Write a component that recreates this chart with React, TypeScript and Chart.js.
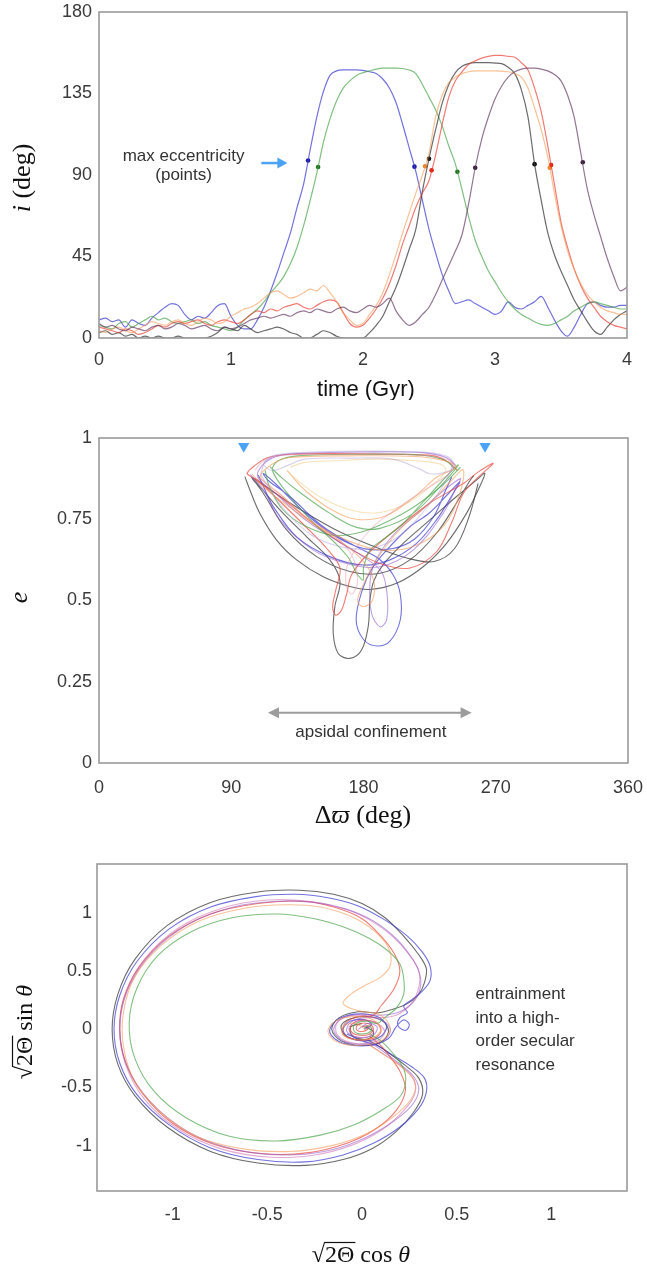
import React, { useEffect, useRef } from 'react';
import { Chart, registerables } from 'chart.js';

Chart.register(...registerables);

const SANS = "'Liberation Sans', Arial, Helvetica, sans-serif";
const SERIF = "'Liberation Serif', 'DejaVu Serif', serif";
const TICK_COLOR = '#3a3a3a';
const FRAME_COLOR = '#9a9a9a';
const TEXT_COLOR = '#333333';

// ---------------- Panel 1: inclination vs time ----------------
const timeTicks = [0, 1, 2, 3, 4];
const incTicks = [0, 45, 90, 135, 180];
const timeGyr = [
  0, 0.05, 0.1, 0.15, 0.2, 0.25, 0.3, 0.35, 0.4, 0.45, 0.5, 0.55, 0.6, 0.65, 0.7, 0.75, 0.8, 0.85, 0.9, 0.95, 1.0,
  1.05, 1.1, 1.15, 1.2, 1.25, 1.3, 1.35, 1.4, 1.45, 1.5, 1.55, 1.6, 1.65, 1.7, 1.75, 1.8, 1.85, 1.9, 1.95, 2.0,
  2.05, 2.1, 2.15, 2.2, 2.25, 2.3, 2.35, 2.4, 2.45, 2.5, 2.55, 2.6, 2.65, 2.7, 2.75, 2.8, 2.85, 2.9, 2.95, 3.0,
  3.05, 3.1, 3.15, 3.2, 3.25, 3.3, 3.35, 3.4, 3.45, 3.5, 3.55, 3.6, 3.65, 3.7, 3.75, 3.8, 3.85, 3.9, 3.95, 4.0,
];
const incBlue = [
  10, 11, 9, 10, 6, 10, 8, 7, 11, 14, 17, 19, 18, 13, 10, 12, 11, 14, 18, 19, 12,
  7, 5, 5, 10, 17, 26, 36, 47, 58, 72, 85, 104, 122, 136, 145, 147.5, 148, 148, 148, 147.8,
  147, 146, 143, 138, 130, 118, 105, 92, 76, 60, 47, 35, 26, 19, 20, 21, 19, 17, 15, 13,
  15, 20, 17, 16, 18, 20, 23, 17, 10, 4, 1, 6, 13, 19, 20, 18, 17, 17, 18, 18,
];
const incGreen = [
  7, 6, 5, 8, 9, 6, 8, 10, 12, 10, 11, 9, 8, 9, 10, 8, 9, 7, 6, 5, 4,
  6, 10, 13, 16, 20, 25, 29, 34, 41, 50, 62, 76, 91, 108, 121, 131, 138, 142, 145, 146.5,
  147.5, 148.5, 149, 149, 149, 148.8, 148, 146, 140, 133, 126, 117, 106, 96, 82, 67, 54, 45, 37, 31,
  25, 20, 16, 13, 11, 9, 7.5, 7, 8, 10, 12, 15, 17, 19, 20, 19, 18, 17, 16, 16,
];
const incBlack = [
  3, 4, 2, 3, 1, 2, 0, 1, 0, 1, 0, 0, 1, 0, 0, 0, 0, 1, 3, 6, 5,
  4, 7, 5, 3, 4, 5, 6, 5, 3, 2, 0, 0, 2, 4, 3, 1, 0, 0, 0, 0,
  3, 7, 12, 20, 28, 38, 49, 60, 81, 99, 115, 129.7, 140, 146.5, 150, 151.5, 152, 152, 152, 151.8,
  151.5, 149.5, 146, 137, 122, 96, 76, 58, 46, 37, 29, 21, 15, 9, 4, 2, 6, 10, 13, 15,
];
const incRed = [
  6, 5, 4, 3, 5, 4, 2, 3, 5, 7, 6, 8, 9, 8, 9, 10, 8, 7, 9, 10, 9,
  8, 10, 13, 15, 14, 16, 15, 17, 18, 19, 17, 16, 18, 20, 21, 20, 14, 8, 6, 7,
  11, 16, 22, 30, 40, 52, 62, 72, 80, 87, 101, 118, 133, 142, 147, 151, 153, 154.5, 155.5, 156,
  156, 155.5, 155, 152, 148, 138, 125, 106, 85, 64, 50, 38, 29, 22, 17, 12, 9, 7, 6, 5,
];
const incOrange = [
  4, 3, 5, 6, 4, 3, 5, 7, 9, 8, 7, 9, 10, 8, 7, 9, 11, 10, 8, 9, 12,
  14, 16, 17, 19, 22, 25, 26, 24, 22, 23, 25, 27, 26, 29, 25, 20, 14, 10, 7, 8,
  13, 18, 25, 35, 46, 58, 69, 80, 90, 102, 122, 134, 141, 144, 146, 147, 147.5, 147.5, 147.5, 147.5,
  147.3, 147, 146, 144, 138, 127, 115, 100, 80, 62, 48, 38, 30, 24, 20, 17, 15, 14, 13, 13,
];
const incMauve = [
  8, 6, 7, 5, 4, 6, 5, 4, 6, 7, 5, 6, 8, 7, 5, 6, 7, 5, 4, 6, 5,
  6, 8, 10, 11, 12, 11, 12, 13, 12, 14, 15, 14, 16, 15, 14, 16, 17, 15, 14, 16,
  18, 17, 19, 22, 15, 10, 7, 9, 13, 17, 24, 32, 40, 48, 57, 74, 94, 110, 122, 132,
  139, 144, 147, 148.5, 149, 149, 148.5, 147.5, 145.5, 142, 134, 122, 102, 82, 68, 56, 44, 34, 26, 28,
];
// max-eccentricity points [time, inclination]
const maxEccBlue = [[1.584, 98], [2.39, 94.6]];
const maxEccGreen = [[1.66, 94.4], [2.715, 91.8]];
const maxEccBlack = [[2.5, 99], [3.3, 96]];
const maxEccRed = [[2.52, 92.6], [3.425, 95.5]];
const maxEccOrange = [[2.47, 94.8], [3.415, 94]];
const maxEccMauve = [[2.85, 94], [3.665, 97]];
// annotation anchors (data coords)
const noteMaxEcc = { t: 0.641, i1: 98.0, i2: 87.2 };
const noteArrow1 = { t0: 1.23, t1: 1.427, i: 96.6 };

// ---------------- Panel 2: e vs delta-varpi ----------------
const varpiTicks = [0, 90, 180, 270, 360];
const eccTicks = [0, 0.25, 0.5, 0.75, 1];
const trackGrayP2 = [
  [99.3, 0.881], [102.7, 0.84], [109.5, 0.768], [120.9, 0.686], [134.5, 0.625], [152.6, 0.573], [170.7, 0.543], [184.4, 0.534], [202.5, 0.553], [220.6, 0.604], [236.5, 0.676], [250.1, 0.768], [258, 0.84], [262.6, 0.891],
  [257, 0.871], [243.3, 0.82], [225.2, 0.748], [207, 0.676], [194, 0.614], [187, 0.56], [184.4, 0.502], [183.2, 0.42], [178.7, 0.348], [170.7, 0.322], [162.8, 0.337], [159.4, 0.399], [160.5, 0.481], [164, 0.56], [157.1, 0.625], [141.3, 0.696], [123.1, 0.779], [109.5, 0.85], [104, 0.878],
  [111.8, 0.83], [127.7, 0.717], [148.1, 0.635], [170.7, 0.589], [191.2, 0.584], [211.6, 0.625], [229.7, 0.707], [243.3, 0.8], [251.3, 0.861], [255, 0.885],
];
const trackGray2P2 = [
  [106, 0.875], [130, 0.8], [160, 0.72], [185, 0.67], [210, 0.63], [228, 0.62], [242, 0.66], [252, 0.76], [258, 0.86],
];
const trackRedP2 = [
  [100.4, 0.891], [110, 0.86], [123.1, 0.82], [145.8, 0.737], [168.5, 0.666], [191.2, 0.614], [211.6, 0.6], [229.7, 0.65], [240, 0.74], [248, 0.83], [257, 0.875], [268.3, 0.922],
  [258, 0.895], [247.9, 0.86], [225.2, 0.8], [202.5, 0.72], [184.4, 0.65], [172, 0.58], [168.5, 0.52], [165, 0.47], [161, 0.455], [159, 0.48], [161, 0.53], [164, 0.6], [155, 0.66], [140, 0.73], [122, 0.81], [108, 0.87], [101, 0.89],
  [106, 0.915], [115, 0.94], [130, 0.95], [160, 0.952], [200, 0.95], [228, 0.945], [238, 0.925], [244, 0.9],
];
const trackBlueP2 = [
  [108.4, 0.886], [113, 0.84], [118.6, 0.789], [134.5, 0.696], [157.1, 0.635], [179.8, 0.609], [198, 0.625], [216.1, 0.676], [229.7, 0.748], [241.1, 0.83], [245.6, 0.865],
  [238, 0.83], [225, 0.77], [211.6, 0.727], [195.7, 0.655], [186, 0.6], [179, 0.53], [175, 0.44], [180, 0.38], [189, 0.36], [198, 0.375], [205, 0.44], [205, 0.52], [200, 0.58], [190, 0.63], [175.3, 0.665], [152.6, 0.727], [129.9, 0.82], [115, 0.87], [111.8, 0.891],
  [120, 0.86], [140, 0.77], [160, 0.7], [180, 0.66], [200, 0.66], [215, 0.69], [228, 0.76], [236, 0.84], [240, 0.88],
];
const trackPurpleP2 = [
  [103, 0.887], [112, 0.84], [123.1, 0.748], [145.8, 0.655], [168.5, 0.614], [191.2, 0.604], [213.8, 0.655], [234.2, 0.768], [243.3, 0.85], [246, 0.875],
  [235, 0.84], [220, 0.78], [200, 0.7], [188, 0.62], [184.4, 0.553], [185.5, 0.46], [191.2, 0.419], [195.7, 0.44], [196, 0.522], [192, 0.59], [178, 0.64], [160, 0.69], [140, 0.75], [120, 0.83], [108, 0.88],
  [112, 0.92], [122, 0.945], [140, 0.953], [180, 0.957], [220, 0.955], [236, 0.94], [243, 0.915],
];
const trackGreenP2 = [
  [116.3, 0.912], [125, 0.875], [134.5, 0.84], [157.1, 0.768], [175.3, 0.725], [191.2, 0.722], [213.8, 0.768], [232, 0.85], [244.5, 0.917],
  [236, 0.88], [220, 0.8], [207, 0.737], [194, 0.69], [184.4, 0.655], [180, 0.6], [179.8, 0.563], [175.3, 0.584], [170, 0.63], [160, 0.68], [145.8, 0.74], [130, 0.82], [118, 0.9],
  [122, 0.93], [135, 0.945], [180, 0.95], [220, 0.947], [236, 0.93], [242, 0.905],
];
const trackGreen2P2 = [
  [246, 0.91], [235, 0.86], [215, 0.79], [195, 0.74], [178, 0.71], [160, 0.7], [140, 0.73], [125, 0.78], [116, 0.85], [113, 0.9],
];
const trackOrangeP2 = [
  [104, 0.89], [112, 0.85], [123.1, 0.809], [145.8, 0.737], [168.5, 0.686], [191.2, 0.655], [213.8, 0.666], [234.2, 0.727], [245.6, 0.83], [247.9, 0.902],
  [240, 0.87], [225, 0.8], [205, 0.72], [188, 0.62], [180, 0.55], [176, 0.5], [179.8, 0.481], [186, 0.5], [187, 0.56], [180, 0.62], [165, 0.68], [145, 0.74], [125, 0.82], [110, 0.88],
  [118, 0.92], [130, 0.94], [170, 0.945], [215, 0.943], [235, 0.93], [243, 0.91],
  [230, 0.88], [215, 0.82], [195, 0.76], [175, 0.75], [158, 0.78], [140, 0.84], [128, 0.9],
];
const trackYellowP2 = [
  [128, 0.9], [135, 0.87], [150, 0.82], [170, 0.78], [190, 0.77], [210, 0.8], [228, 0.86], [236, 0.9], [232, 0.92], [215, 0.93], [190, 0.935], [160, 0.93], [140, 0.925], [130, 0.91],
];
const trackLavenderP2 = [
  [110, 0.89], [113, 0.925], [122, 0.948], [150, 0.957], [190, 0.958], [225, 0.955], [238, 0.94], [242, 0.915], [236, 0.895], [225, 0.89], [218, 0.905], [200, 0.935], [170, 0.938], [140, 0.935], [128, 0.915], [118, 0.9], [112, 0.92], [118, 0.945], [135, 0.955], [180, 0.96], [228, 0.952], [240, 0.93],
  [235, 0.86], [222, 0.78], [205, 0.7], [185, 0.66], [165, 0.665], [145, 0.7], [128, 0.77], [115, 0.85], [110, 0.89],
];
const trackPinkP2 = [
  [106, 0.9], [112, 0.93], [124, 0.946], [160, 0.95], [205, 0.95], [232, 0.94], [241, 0.92], [238, 0.89], [225, 0.85], [205, 0.79], [185, 0.72], [170, 0.62], [168, 0.55], [172, 0.52], [176, 0.56], [172, 0.64], [160, 0.7], [140, 0.76], [120, 0.84], [108, 0.88],
];
const confinementMarkers = [[98.5, 0.975], [262.7, 0.975]];
const noteConfinement = { w0: 115, w1: 253.6, eArrow: 0.155, wText: 185, eText: 0.079 };

// ---------------- Panel 3: resonance phase space ----------------
const cosTicks = [-1, -0.5, 0, 0.5, 1];
const sinTicks = [-1, -0.5, 0, 0.5, 1];
const phaseGray = [
  [0.02, 0.02], [0.06, -0.02], [0.05, -0.07], [-0.02, -0.09], [-0.09, -0.05], [-0.11, 0.03], [-0.06, 0.09], [0.03, 0.11], [0.11, 0.07], [0.14, -0.02], [0.1, -0.11], [0, -0.14], [-0.11, -0.1], [-0.16, 0], [-0.12, 0.1], [-0.02, 0.15], [0.08, 0.14],
  [0.16, 0.17], [0.24, 0.22], [0.3, 0.3], [0.33, 0.4], [0.34, 0.52], [0.3, 0.64], [0.22, 0.8], [0.12, 0.96], [0, 1.08], [-0.15, 1.16], [-0.33, 1.195], [-0.55, 1.18], [-0.8, 1.09], [-1.03, 0.89], [-1.2, 0.6], [-1.29, 0.3], [-1.32, 0], [-1.29, -0.3], [-1.2, -0.57], [-1.03, -0.84], [-0.8, -1.05], [-0.55, -1.15], [-0.3, -1.17], [-0.1, -1.12], [0.06, -1.02], [0.18, -0.88], [0.27, -0.72], [0.32, -0.56], [0.3, -0.42], [0.22, -0.3], [0.12, -0.18], [0.04, -0.1], [-0.05, -0.06], [-0.06, 0.02], [0, 0.05],
];
const phaseBlue = [
  [0.01, 0], [0.05, 0.04], [0.02, 0.08], [-0.06, 0.07], [-0.1, 0], [-0.07, -0.07], [0.02, -0.1], [0.1, -0.06], [0.13, 0.03], [0.08, 0.11], [-0.04, 0.13], [-0.14, 0.07], [-0.17, -0.03], [-0.1, -0.12], [0.04, -0.14], [0.14, -0.08], [0.18, 0.02], [0.22, 0.08], [0.25, 0.04], [0.23, -0.01], [0.19, 0.03], [0.2, 0.1], [0.24, 0.14], [0.22, 0.2], [0.26, 0.25],
  [0.32, 0.33], [0.36, 0.42], [0.36, 0.54], [0.32, 0.66], [0.24, 0.8], [0.12, 0.94], [-0.02, 1.06], [-0.18, 1.13], [-0.35, 1.16], [-0.56, 1.14], [-0.8, 1.05], [-1.02, 0.86], [-1.19, 0.58], [-1.28, 0.29], [-1.31, 0], [-1.28, -0.29], [-1.19, -0.56], [-1.02, -0.82], [-0.8, -1.02], [-0.55, -1.12], [-0.3, -1.14], [-0.1, -1.08], [0.06, -0.98], [0.2, -0.84], [0.3, -0.68], [0.34, -0.54], [0.33, -0.42], [0.26, -0.32], [0.16, -0.22], [0.08, -0.14], [0, -0.1], [-0.08, -0.04],
];
const phasePurple = [
  [-0.02, 0], [0.03, 0.05], [0.08, 0.02], [0.06, -0.05], [-0.02, -0.07], [-0.08, -0.02], [-0.06, 0.06], [0.02, 0.1], [0.1, 0.08], [0.15, 0], [0.12, -0.09], [0.02, -0.13], [-0.1, -0.1], [-0.15, 0], [-0.1, 0.1], [0, 0.13], [0.1, 0.12],
  [0.2, 0.15], [0.28, 0.25], [0.31, 0.38], [0.3, 0.5], [0.26, 0.62], [0.18, 0.78], [0.06, 0.93], [-0.08, 1.03], [-0.25, 1.09], [-0.45, 1.1], [-0.68, 1.05], [-0.92, 0.9], [-1.12, 0.64], [-1.24, 0.33], [-1.28, 0], [-1.24, -0.32], [-1.12, -0.62], [-0.92, -0.88], [-0.68, -1.03], [-0.42, -1.08], [-0.2, -1.05], [-0.02, -0.96], [0.14, -0.82], [0.26, -0.66], [0.3, -0.52], [0.27, -0.4], [0.2, -0.3], [0.12, -0.2], [0.05, -0.12],
];
const phaseMagenta = [
  [0, 0.03], [0.06, 0], [0.04, -0.06], [-0.04, -0.06], [-0.07, 0.01], [-0.02, 0.07], [0.07, 0.06], [0.12, -0.02], [0.08, -0.1], [-0.04, -0.12], [-0.13, -0.05], [-0.13, 0.06], [-0.04, 0.12], [0.08, 0.1],
  [0.18, 0.12], [0.26, 0.22], [0.3, 0.36], [0.3, 0.5], [0.25, 0.64], [0.16, 0.8], [0.04, 0.94], [-0.1, 1.04], [-0.28, 1.1], [-0.5, 1.11], [-0.74, 1.04], [-0.97, 0.87], [-1.15, 0.6], [-1.25, 0.3], [-1.28, 0], [-1.25, -0.3], [-1.15, -0.6], [-0.97, -0.86], [-0.74, -1.03], [-0.48, -1.1], [-0.25, -1.08], [-0.06, -1], [0.1, -0.87], [0.22, -0.7], [0.28, -0.55], [0.27, -0.42], [0.2, -0.31], [0.1, -0.2], [0.03, -0.12],
];
const phaseRed = [
  [0, 0.02], [0.03, 0.03], [0.03, 0], [0, -0.02], [-0.03, 0], [-0.02, 0.04], [0.03, 0.05], [0.06, 0.01], [0.04, -0.04], [-0.02, -0.05], [-0.06, -0.01], [-0.05, 0.05], [0.01, 0.08], [0.08, 0.05], [0.1, -0.02], [0.06, -0.08], [-0.03, -0.09], [-0.1, -0.04], [-0.09, 0.05], [-0.02, 0.11], [0.06, 0.12],
  [0.1, 0.2], [0.17, 0.35], [0.2, 0.5], [0.17, 0.65], [0.1, 0.8], [0, 0.95], [-0.15, 1.05], [-0.32, 1.1], [-0.55, 1.08], [-0.8, 0.99], [-1.02, 0.8], [-1.18, 0.53], [-1.26, 0.26], [-1.28, 0], [-1.25, -0.28], [-1.16, -0.55], [-1, -0.81], [-0.78, -0.99], [-0.52, -1.07], [-0.28, -1.06], [-0.08, -0.98], [0.07, -0.86], [0.18, -0.7], [0.23, -0.52], [0.2, -0.36], [0.15, -0.24], [0.1, -0.14], [0.04, -0.06],
];
const phaseOrange = [
  [0.02, 0], [-0.04, 0.05], [-0.1, 0.02], [-0.1, -0.05], [-0.03, -0.09], [0.06, -0.07], [0.1, 0], [0.06, 0.08], [-0.04, 0.11], [-0.14, 0.07], [-0.18, -0.02], [-0.13, -0.11], [-0.02, -0.14], [0.1, -0.1], [0.15, 0], [0.1, 0.12], [-0.02, 0.16],
  [-0.1, 0.22], [-0.06, 0.3], [0.02, 0.38], [0.1, 0.45], [0.15, 0.55], [0.14, 0.7], [0.06, 0.85], [-0.06, 0.97], [-0.22, 1.05], [-0.4, 1.07], [-0.62, 1.04], [-0.86, 0.93], [-1.06, 0.72], [-1.2, 0.45], [-1.26, 0.15], [-1.26, -0.15], [-1.2, -0.45], [-1.06, -0.72], [-0.86, -0.93], [-0.62, -1.03], [-0.38, -1.05], [-0.16, -1], [0.02, -0.9], [0.16, -0.76], [0.26, -0.6], [0.28, -0.46], [0.22, -0.34], [0.12, -0.22], [0.04, -0.14],
];
const phaseGreen = [
  [0.01, 0.01], [0.04, 0.03], [0.05, -0.01], [0.01, -0.04], [-0.04, -0.02], [-0.04, 0.04], [0.02, 0.07], [0.08, 0.05],
  [0.12, 0.1], [0.18, 0.18], [0.22, 0.3], [0.22, 0.44], [0.2, 0.56], [0.14, 0.67], [0.04, 0.78], [-0.1, 0.88], [-0.25, 0.95], [-0.45, 0.99], [-0.68, 0.96], [-0.9, 0.84], [-1.08, 0.63], [-1.19, 0.35], [-1.23, 0.05], [-1.2, -0.25], [-1.1, -0.53], [-0.93, -0.76], [-0.7, -0.92], [-0.45, -0.96], [-0.22, -0.91], [-0.04, -0.82], [0.1, -0.7], [0.2, -0.58], [0.23, -0.46], [0.22, -0.34], [0.16, -0.2], [0.1, -0.1], [0.04, -0.04],
];
const noteEntrainment = { x: 0.6, y: 0.257, lines: ['entrainment', 'into a high-', 'order secular', 'resonance'] };

// ---------------- styling ----------------
const COL = {
  blue: 'rgba(60,60,210,0.72)',
  green: 'rgba(70,160,70,0.68)',
  black: 'rgba(50,50,50,0.72)',
  red: 'rgba(235,60,50,0.68)',
  orange: 'rgba(245,150,80,0.58)',
  mauve: 'rgba(100,60,100,0.7)',
  purple: 'rgba(140,80,200,0.55)',
  magenta: 'rgba(200,90,170,0.5)',
  lavender: 'rgba(170,150,215,0.45)',
  pink: 'rgba(230,140,165,0.45)',
  yellow: 'rgba(240,200,120,0.5)',
};

type Part = { t: string; f: string; over?: boolean };

function drawRich(ctx: CanvasRenderingContext2D, parts: Part[], cx: number, baseY: number, rot: number, size: number) {
  ctx.save();
  ctx.translate(cx, baseY);
  ctx.rotate(rot);
  const widths = parts.map((p) => {
    ctx.font = p.f;
    return ctx.measureText(p.t).width;
  });
  const total = widths.reduce((a, b) => a + b, 0);
  let x = -total / 2;
  ctx.textAlign = 'left';
  ctx.textBaseline = 'alphabetic';
  ctx.fillStyle = '#111';
  ctx.strokeStyle = '#111';
  parts.forEach((p, i) => {
    ctx.font = p.f;
    ctx.fillText(p.t, x, 0);
    if (p.over) {
      ctx.lineWidth = Math.max(1, size * 0.05);
      ctx.beginPath();
      ctx.moveTo(x - 1, -size * 0.8);
      ctx.lineTo(x + widths[i] + 1, -size * 0.8);
      ctx.stroke();
    }
    x += widths[i];
  });
  ctx.restore();
}

function frame(chart: any) {
  const { ctx, chartArea: a } = chart;
  ctx.save();
  ctx.strokeStyle = FRAME_COLOR;
  ctx.lineWidth = 1.6;
  ctx.strokeRect(a.left, a.top, a.right - a.left, a.bottom - a.top);
  ctx.restore();
}

function axis(min: number, max: number, ticks: number[], key: 'width' | 'height', size: number, pad: number) {
  return {
    type: 'linear',
    min,
    max,
    grid: { display: false, drawTicks: false },
    border: { display: false },
    ticks: {
      color: TICK_COLOR,
      font: { family: SANS, size: 18 },
      padding: pad,
      autoSkip: false,
      maxRotation: 0,
      minRotation: 0,
      callback: (v: number) => String(v),
    },
    afterBuildTicks: (s: any) => {
      s.ticks = ticks.map((v) => ({ value: v }));
    },
    afterFit: (s: any) => {
      s[key] = size;
      s.paddingLeft = 0;
      s.paddingRight = 0;
      s.paddingTop = 0;
      s.paddingBottom = 0;
    },
  };
}

const baseOptions = {
  responsive: false,
  animation: false,
  devicePixelRatio: 1,
  events: [],
  plugins: { legend: { display: false }, tooltip: { enabled: false } },
};

function lineSet(data: number[], color: string) {
  return {
    data: timeGyr.map((t, k) => ({ x: t, y: data[k] })),
    borderColor: color,
    borderWidth: 1.2,
    pointRadius: 0,
    cubicInterpolationMode: 'monotone',
    fill: false,
  };
}
function dotSet(pts: number[][], color: string) {
  return {
    data: pts.map(([x, y]) => ({ x, y })),
    showLine: false,
    pointRadius: 2.3,
    pointBackgroundColor: color,
    pointBorderWidth: 0,
    borderColor: color,
  };
}
function trackSet(pts: number[][], color: string, width = 1.1) {
  return {
    data: pts.map(([x, y]) => ({ x, y })),
    showLine: true,
    borderColor: color,
    borderWidth: width,
    pointRadius: 0,
    tension: 0.35,
    fill: false,
  };
}

function buildPanel1(): any {
  return {
    type: 'line',
    data: {
      datasets: [
        lineSet(incMauve, COL.mauve),
        lineSet(incOrange, COL.orange),
        lineSet(incRed, COL.red),
        lineSet(incBlack, COL.black),
        lineSet(incGreen, COL.green),
        lineSet(incBlue, COL.blue),
        dotSet(maxEccBlue, '#1c1ca0'),
        dotSet(maxEccGreen, '#1f6e1f'),
        dotSet(maxEccBlack, '#111111'),
        dotSet(maxEccRed, '#e02010'),
        dotSet(maxEccOrange, '#f08020'),
        dotSet(maxEccMauve, '#3a1f3a'),
      ],
    },
    options: {
      ...baseOptions,
      layout: { padding: { top: 12, right: 20, left: 0, bottom: 0 } },
      scales: {
        x: axis(0, 4, timeTicks, 'height', 62, 11),
        y: axis(0, 180, incTicks, 'width', 99, 7),
      },
    },
    plugins: [
      {
        id: 'deco1',
        afterDraw(chart: any) {
          const ctx = chart.ctx;
          const xs = chart.scales.x;
          const ys = chart.scales.y;
          frame(chart);
          ctx.save();
          ctx.fillStyle = TEXT_COLOR;
          ctx.font = `17px ${SANS}`;
          ctx.textAlign = 'center';
          ctx.textBaseline = 'alphabetic';
          const cx = xs.getPixelForValue(noteMaxEcc.t);
          ctx.fillText('max eccentricity', cx, ys.getPixelForValue(noteMaxEcc.i1));
          ctx.fillText('(points)', cx, ys.getPixelForValue(noteMaxEcc.i2));
          const x0 = xs.getPixelForValue(noteArrow1.t0);
          const x1 = xs.getPixelForValue(noteArrow1.t1);
          const y = ys.getPixelForValue(noteArrow1.i);
          ctx.strokeStyle = '#4aa3f5';
          ctx.fillStyle = '#4aa3f5';
          ctx.lineWidth = 2.5;
          ctx.beginPath();
          ctx.moveTo(x0, y);
          ctx.lineTo(x1 - 8, y);
          ctx.stroke();
          ctx.beginPath();
          ctx.moveTo(x1, y);
          ctx.lineTo(x1 - 10, y - 5.5);
          ctx.lineTo(x1 - 10, y + 5.5);
          ctx.closePath();
          ctx.fill();
          ctx.restore();
          drawRich(ctx, [{ t: 'time (Gyr)', f: `22px ${SANS}` }], 366, 396, 0, 22);
          drawRich(ctx, [{ t: 'i', f: `italic 26px ${SERIF}` }, { t: ' (deg)', f: `26px ${SERIF}` }], 30, 178, -Math.PI / 2, 26);
        },
      },
    ],
  };
}

function buildPanel2(): any {
  return {
    type: 'scatter',
    data: {
      datasets: [
        trackSet(trackLavenderP2, COL.lavender),
        trackSet(trackPinkP2, COL.pink),
        trackSet(trackYellowP2, COL.yellow),
        trackSet(trackOrangeP2, COL.orange),
        trackSet(trackGreenP2, COL.green),
        trackSet(trackGreen2P2, COL.green),
        trackSet(trackPurpleP2, COL.purple),
        trackSet(trackRedP2, COL.red),
        trackSet(trackBlueP2, COL.blue),
        trackSet(trackGray2P2, COL.black),
        trackSet(trackGrayP2, COL.black),
        {
          data: confinementMarkers.map(([x, y]) => ({ x, y })),
          showLine: false,
          pointStyle: 'triangle',
          rotation: 180,
          pointRadius: 6.5,
          pointBackgroundColor: '#4aa3f5',
          pointBorderWidth: 0,
          borderColor: '#4aa3f5',
        },
      ],
    },
    options: {
      ...baseOptions,
      layout: { padding: { top: 18, right: 19, left: 0, bottom: 0 } },
      scales: {
        x: axis(0, 360, varpiTicks, 'height', 87, 14),
        y: axis(0, 1, eccTicks, 'width', 99, 7),
      },
    },
    plugins: [
      {
        id: 'deco2',
        afterDraw(chart: any) {
          const ctx = chart.ctx;
          const xs = chart.scales.x;
          const ys = chart.scales.y;
          frame(chart);
          ctx.save();
          const x0 = xs.getPixelForValue(noteConfinement.w0);
          const x1 = xs.getPixelForValue(noteConfinement.w1);
          const y = ys.getPixelForValue(noteConfinement.eArrow);
          ctx.strokeStyle = '#9c9c9c';
          ctx.fillStyle = '#9c9c9c';
          ctx.lineWidth = 2;
          ctx.beginPath();
          ctx.moveTo(x0 + 8, y);
          ctx.lineTo(x1 - 8, y);
          ctx.stroke();
          ctx.beginPath();
          ctx.moveTo(x0, y);
          ctx.lineTo(x0 + 11, y - 5.5);
          ctx.lineTo(x0 + 11, y + 5.5);
          ctx.closePath();
          ctx.fill();
          ctx.beginPath();
          ctx.moveTo(x1, y);
          ctx.lineTo(x1 - 11, y - 5.5);
          ctx.lineTo(x1 - 11, y + 5.5);
          ctx.closePath();
          ctx.fill();
          ctx.fillStyle = TEXT_COLOR;
          ctx.font = `17px ${SANS}`;
          ctx.textAlign = 'center';
          ctx.textBaseline = 'alphabetic';
          ctx.fillText('apsidal confinement', xs.getPixelForValue(noteConfinement.wText), ys.getPixelForValue(noteConfinement.eText));
          ctx.restore();
          drawRich(
            ctx,
            [
              { t: 'Δ', f: `26px ${SERIF}` },
              { t: 'ϖ', f: `italic 26px ${SERIF}` },
              { t: ' (deg)', f: `26px ${SERIF}` },
            ],
            363,
            403,
            0,
            26,
          );
          drawRich(ctx, [{ t: 'e', f: `italic 26px ${SERIF}` }], 27, 177.5, -Math.PI / 2, 26);
        },
      },
    ],
  };
}

function buildPanel3(): any {
  return {
    type: 'scatter',
    data: {
      datasets: [
        trackSet(phaseOrange, COL.orange),
        trackSet(phaseGreen, COL.green),
        trackSet(phaseMagenta, COL.magenta),
        trackSet(phasePurple, COL.purple),
        trackSet(phaseRed, COL.red),
        trackSet(phaseBlue, COL.blue),
        trackSet(phaseGray, COL.black),
      ],
    },
    options: {
      ...baseOptions,
      layout: { padding: { top: 14, right: 20, left: 0, bottom: 0 } },
      scales: {
        x: axis(-1.4, 1.4, cosTicks, 'height', 78, 13),
        y: axis(-1.39, 1.42, sinTicks, 'width', 97, 5),
      },
    },
    plugins: [
      {
        id: 'deco3',
        afterDraw(chart: any) {
          const ctx = chart.ctx;
          const xs = chart.scales.x;
          const ys = chart.scales.y;
          frame(chart);
          ctx.save();
          ctx.fillStyle = TEXT_COLOR;
          ctx.font = `17px ${SANS}`;
          ctx.textAlign = 'left';
          ctx.textBaseline = 'alphabetic';
          const lx = xs.getPixelForValue(noteEntrainment.x);
          const ly = ys.getPixelForValue(noteEntrainment.y);
          noteEntrainment.lines.forEach((s, k) => ctx.fillText(s, lx, ly + k * 23.4));
          ctx.restore();
          const f = `24px ${SERIF}`;
          const fi = `italic 24px ${SERIF}`;
          drawRich(ctx, [{ t: '√', f }, { t: '2Θ', f, over: true }, { t: ' cos ', f }, { t: 'θ', f: fi }], 361, 411.7, 0, 24);
          drawRich(ctx, [{ t: '√', f }, { t: '2Θ', f, over: true }, { t: ' sin ', f }, { t: 'θ', f: fi }], 31.7, 182, -Math.PI / 2, 24);
        },
      },
    ],
  };
}

function Panel({ top, height, build }: { top: number; height: number; build: () => any }) {
  const ref = useRef<HTMLCanvasElement>(null);
  useEffect(() => {
    const chart = new Chart(ref.current as HTMLCanvasElement, build());
    return () => chart.destroy();
  }, []);
  return (
    <canvas
      ref={ref}
      width={647}
      height={height}
      style={{ position: 'absolute', left: 0, top, width: 647, height, display: 'block' }}
    />
  );
}

export default function App() {
  return (
    <div style={{ position: 'absolute', left: 0, top: 0, width: 647, height: 1269, background: '#ffffff' }}>
      <Panel top={0} height={400} build={buildPanel1} />
      <Panel top={420} height={430} build={buildPanel2} />
      <Panel top={850} height={419} build={buildPanel3} />
    </div>
  );
}
